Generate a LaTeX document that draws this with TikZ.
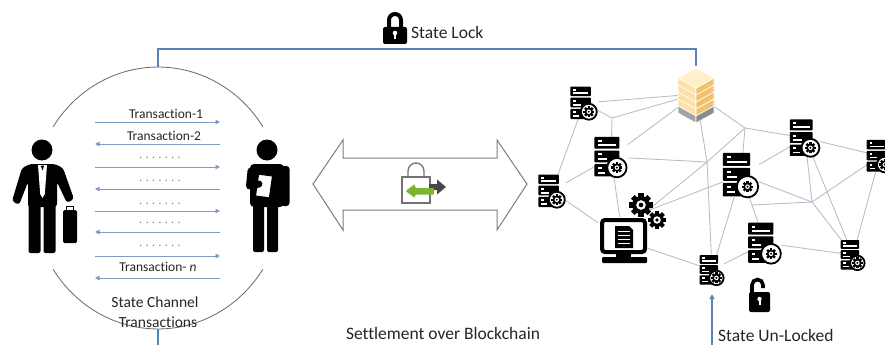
\documentclass[tikz,border=0pt]{standalone}
\usepackage{fontspec}
\setmainfont{Carlito}[Ligatures=NoCommon]
\usetikzlibrary{arrows.meta,shapes.geometric,calc}

\definecolor{linkblue}{RGB}{88,132,178}
\definecolor{txblue}{RGB}{125,155,195}
\definecolor{meshgray}{RGB}{182,189,200}
\definecolor{arcgray}{RGB}{105,105,105}
\definecolor{boxgray}{RGB}{125,125,125}
\definecolor{lockgreen}{RGB}{122,182,48}
\definecolor{inkgray}{RGB}{38,38,38}
\definecolor{stacktop}{RGB}{255,240,200}
\definecolor{stackleft}{RGB}{253,224,165}
\definecolor{stackright}{RGB}{243,192,110}
\definecolor{stackbase}{RGB}{140,140,140}

\tikzset{
  link/.style={linkblue, line width=1.6pt},
  txline/.style={txblue, line width=0.9pt},
  mesh/.style={meshgray, line width=0.85pt},
  tx/.style={font=\fontsize{13.5}{15}\selectfont, text=inkgray, inner sep=0pt},
  dotrow/.style={font=\fontsize{11.5}{13}\selectfont, text=black!55, inner sep=0pt},
  caption/.style={font=\fontsize{17.5}{20}\selectfont, text=inkgray, inner sep=0pt},
  hub/.style={inner sep=0pt, minimum width=#1pt, minimum height=#1pt},
  cog/.pic={
    \fill[black] (0,0) circle (8);
    \foreach \a in {0,45,...,315}{\fill[black, rotate=\a] (-2.3,0) rectangle (2.3,10.6);}
    \fill[white] (0,0) circle (4.4);
    \fill[black] (0,0) circle (2.1);
  },
  server/.pic={
    \fill[white] (-14,-17) rectangle (14,17);
    \fill[black, rounded corners=0.8pt] (-14,-17) rectangle (7,-7);
    \fill[black, rounded corners=0.8pt] (-14,-5.5) rectangle (7,4.5);
    \fill[black, rounded corners=0.8pt] (-14,6) rectangle (7,16.5);
    \fill[white] (-11,-14.5) rectangle (-8,-12.8);
    \fill[white] (-11,-11) rectangle (4.5,-9.4);
    \fill[white] (-11,-3) rectangle (-8,-1.3);
    \fill[white] (-11,1) rectangle (-3,2.6);
    \fill[white] (-11,8.5) rectangle (-8,10.2);
    \fill[white] (-11,12.5) rectangle (-5,14.1);
    \draw[black, line width=1.8pt, fill=white] (5,9) circle (8.2);
    \pic[scale=0.52] at (5,9) {cog};
  }
}

\begin{document}
\begin{tikzpicture}[x=1pt,y=-1pt]
\useasboundingbox (0,0) rectangle (885,345);
\clip (0,0) rectangle (885,345);
\fill[white] (0,0) rectangle (885,345);

% ---------- state channel (ellipse drawn as two arcs) ----------
\node[ellipse, minimum width=250pt, minimum height=262pt, inner sep=0pt] (channel) at (158,198) {};
\draw[arcgray, line width=0.8pt] (53.2,126.7) arc[start angle=-147, end angle=-33, x radius=125, y radius=131];
\draw[arcgray, line width=0.8pt] (262.8,269.3) arc[start angle=33, end angle=147, x radius=125, y radius=131];

% ---------- transaction arrows ----------
\foreach \y [count=\i] in {122,144,167,189,211,232,256,278} {
  \coordinate (TL\i) at (95,\y);
  \coordinate (TR\i) at (220,\y);
  \ifodd\i
    \draw[txline, -{Triangle[length=4.5pt,width=4.5pt]}] (TL\i) -- (TR\i);
  \else
    \draw[txline, {Triangle[length=4.5pt,width=4.5pt]}-] (TL\i) -- (TR\i);
  \fi
}
\node[tx] (lab1) at (166,114) {Transaction-1};
\node[tx] (lab2) at (164,136) {Transaction-2};
\node[dotrow] (lab3) at (160,158) {. . . . . . .};
\node[dotrow] (lab4) at (160,181) {. . . . . . .};
\node[dotrow] (lab5) at (160,204) {. . . . . . .};
\node[dotrow] (lab6) at (160,223) {. . . . . . .};
\node[dotrow] (lab7) at (160,246) {. . . . . . .};
\node[tx] (lab8) at (158,267) {Transaction- \textit{n}};
\node[tx, font=\fontsize{15.5}{17}\selectfont] (chan1) at (155,302) {State Channel};
\node[tx, font=\fontsize{15.5}{17}\selectfont] (chan2) at (158,322) {Transactions};

% ---------- left person (businessman) ----------
\fill[black] (42,150) circle (10.5);
\fill[black, rounded corners=3pt] (22,168) -- (30,164) -- (55,164) -- (63,168) -- (74,199) -- (67,203)
  -- (57,182) -- (57,207) -- (28,207) -- (28,182) -- (19,205) -- (12,201) -- cycle;
\fill[black, rounded corners=2pt] (28.5,200) rectangle (40.5,253);
\fill[black, rounded corners=2pt] (43.5,200) rectangle (55.5,253);
\fill[white] (38,165) -- (47,165) -- (44.8,194) -- (42.5,198) -- (40.2,194) -- cycle;
\fill[black] (40.8,165.5) -- (44.2,165.5) -- (42.5,170.5) -- cycle;
\fill[black, rounded corners=1.5pt] (63,210) rectangle (77,243);
\draw[black, line width=1.6pt] (66.5,211) -- (66.5,206.5) -- (73.5,206.5) -- (73.5,211);

% ---------- right person (holding a document) ----------
\fill[black] (267,150) circle (10.5);
\fill[black, rounded corners=4pt] (250,164) rectangle (284,207);
\fill[black, rounded corners=3pt] (281,166) rectangle (289.5,206);
\fill[black, rounded corners=2pt] (253,200) rectangle (264,252);
\fill[black, rounded corners=2pt] (267,200) rectangle (278,252);
\draw[black, line width=1pt, fill=white, rotate around={-8:(264,186)}] (257,175) rectangle (271,197);
\draw[black, line width=7pt, line cap=round, line join=round] (251,171) -- (249.5,186) -- (259,184);

% ---------- settlement double arrow ----------
\draw[boxgray, line width=1pt, fill=white, line join=miter]
  (313,184) -- (343,140) -- (343,158) -- (497,158) -- (497,140) -- (527,184)
  -- (497,230) -- (497,210) -- (343,210) -- (343,230) -- cycle;
% lock with exchange arrows
\draw[black!55, line width=1.3pt] (402,177) rectangle (430,203);
\draw[black!55, line width=1.3pt] (408,177) -- (408,171) arc[start angle=180, end angle=360, radius=8] -- (424,177);
\fill[black!72] (429,184) -- (437,184) -- (437,179.5) -- (446,187) -- (437,194.5) -- (437,190) -- (429,190) -- cycle;
\fill[lockgreen, rounded corners=1pt] (434,188) -- (415,188) -- (415,184) -- (405.5,191) -- (415,198) -- (415,194.5) -- (434,194.5) -- cycle;
\node[caption] (settle) at (443,333) {Settlement over Blockchain};

% ---------- blockchain network ----------
\node[hub=1] (j1) at (612,118) {};
\node[hub=1] (j2) at (745,128) {};
\node[hub=1] (j3) at (707,162) {};
\node[hub=1] (j4) at (812,202) {};
\node[hub=1] (j6) at (752,205) {};
\node[inner sep=0pt, minimum width=37pt, minimum height=55pt] (S) at (696,94) {};
\node[hub=30] (A) at (584,103) {};
\node[hub=36] (B) at (611,157) {};
\node[hub=30] (C) at (552,191) {};
\node[inner sep=0pt, minimum width=47pt, minimum height=46pt] (M) at (623,240) {};
\node[hub=24] (G) at (647,211) {};
\node[hub=40] (D) at (741,175) {};
\node[hub=33] (E) at (805,138) {};
\node[hub=30] (F) at (880,156) {};
\node[hub=38] (Gs) at (765,243) {};
\node[inner sep=0pt, minimum width=24pt, minimum height=30pt] (H) at (853,255) {};
\node[inner sep=0pt, minimum width=24pt, minimum height=30pt] (I) at (712,270) {};

\foreach \u/\v in {A/S, A/j1, j1/S, j1/B, B/S, A/C, B/C, C/M, B/M, B/j3, S/j3, S/j2, j2/E,
                   j2/D, j2/j3, j3/G, j3/I, G/D, M/I, D/I, D/j6, j6/Gs, j6/j4, I/Gs, Gs/H,
                   D/j4, E/j4, j4/F, j4/H, E/F, F/H, D/E, E/H}
  \draw[mesh] (\u.center) -- (\v.center);

% ledger stack
\begin{scope}[shift={(696,94)}]
  \foreach \k in {0,1,2,3} {
    \filldraw[fill=stackleft, draw=white, line width=0.6pt]
      (-18,-16+7*\k) -- (0,-6+7*\k) -- (0,1+7*\k) -- (-18,-9+7*\k) -- cycle;
    \filldraw[fill=stackright, draw=white, line width=0.6pt]
      (0,-6+7*\k) -- (18,-16+7*\k) -- (18,-9+7*\k) -- (0,1+7*\k) -- cycle;
  }
  \filldraw[fill=stackbase!80, draw=white, line width=0.6pt] (-18,12) -- (0,22) -- (0,29) -- (-18,19) -- cycle;
  \filldraw[fill=stackbase, draw=white, line width=0.6pt] (0,22) -- (18,12) -- (18,19) -- (0,29) -- cycle;
  \filldraw[fill=stacktop, draw=white, line width=0.6pt] (0,-26) -- (18,-16) -- (0,-6) -- (-18,-16) -- cycle;
\end{scope}

% servers
\pic[scale=0.97] at (A) {server};
\pic[scale=1.18] at (B) {server};
\pic[scale=0.97] at (C) {server};
\pic[scale=1.30] at (D) {server};
\pic[scale=1.09] at (E) {server};
\pic[scale=0.95] at (F) {server};
\pic[scale=1.20] at (Gs) {server};
\pic[scale=0.88] at (H) {server};
\pic[scale=0.88] at (I) {server};

% workstation with gears
\fill[white] (598,217) rectangle (648,264);
\draw[black, line width=4pt, rounded corners=3pt] (602,220) rectangle (645,252);
\fill[black] (616,252) rectangle (631,258);
\fill[black, rounded corners=1pt] (602,257) rectangle (647,263);
\fill[black] (615,226) -- (629,226) -- (633,230) -- (633,248) -- (615,248) -- cycle;
\foreach \yy in {231,235,239,243} \fill[white] (618,\yy) rectangle (630,\yy+1.4);
\pic[scale=1.1] at (641,205) {cog};
\pic[scale=0.85] at (657,220) {cog};

% ---------- locks and link lines ----------
\draw[link] (channel.north) -- ++(0,-18) -| (S.north);
\coordinate (chfoot) at (158,345);
\draw[link] (channel.south) -- (chfoot);
\coordinate (unfoot) at (712,345);
\draw[link, -{Triangle[length=5pt,width=5pt]}, shorten >=9pt] (unfoot) -- (I.south);

% closed padlock
\fill[black, rounded corners=2pt] (383,27) rectangle (407,44);
\draw[black, line width=4pt] (389,28) -- (389,20) arc[start angle=180, end angle=360, radius=6] -- (401,28);
\fill[white] (395,33) circle (2.3);
\fill[white] (394,33) rectangle (396,39.5);
\node[caption, anchor=base west] (lockcap) at (411,39) {State Lock};

% open padlock
\fill[black, rounded corners=2pt] (749,292) rectangle (770,312);
\draw[black, line width=3.6pt] (752,293) -- (752,285) arc[start angle=180, end angle=360, radius=5.5] -- (763,288);
\fill[white] (759.5,299) circle (2.2);
\fill[white] (758.5,299) rectangle (760.5,305);
\node[caption, anchor=base west] (unlockcap) at (718,341) {State Un-Locked};
\end{tikzpicture}
\end{document}
